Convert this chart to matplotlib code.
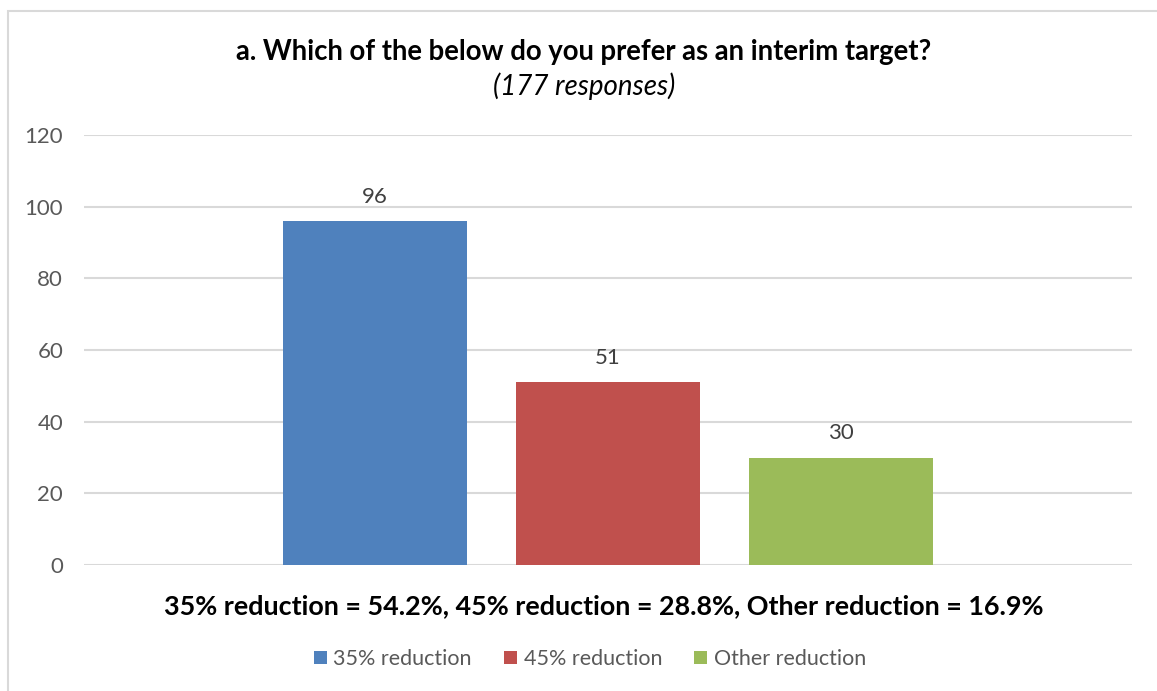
import matplotlib
matplotlib.use("Agg")
import matplotlib.pyplot as plt
from matplotlib.patches import Rectangle, Patch

categories = ["35% reduction", "45% reduction", "Other reduction"]
values = [96, 51, 30]
colors = ["#4f81bd", "#c0504d", "#9bbb59"]
yticks = [0, 20, 40, 60, 80, 100, 120]
title = "a. Which of the below do you prefer as an interim target?"
subtitle = "(177 responses)"
xlabel = "35% reduction = 54.2%, 45% reduction = 28.8%, Other reduction = 16.9%"

plt.rcParams['font.family'] = ['Lato', 'DejaVu Sans']

W, H = 1157, 691
fig = plt.figure(figsize=(W / 100, H / 100), dpi=100)

# chart border
fig.patches.append(Rectangle((8 / W, -0.01), 1.02 - 8 / W, 1 - 11 / H + 0.01,
                             transform=fig.transFigure, fill=False,
                             edgecolor="#d9d9d9", linewidth=1.5))

ax = fig.add_axes([84 / W, 1 - 565 / H, (1132 - 84) / W, (565 - 135) / H])
bw = 184 / 1048
off = 233 / 1048
for i, (c, v, col) in enumerate(zip(categories, values, colors)):
    x = (i - 1) * off
    ax.bar(x, v, width=bw, color=col, label=c, zorder=3)
    ax.text(x, v + 4.0, str(v), ha="center", va="bottom", fontsize=16,
            color="#404040")

ax.set_xlim(-0.5, 0.5)
ax.set_ylim(0, 120)
ax.set_yticks(yticks)
ax.set_yticklabels([str(t) for t in yticks], fontsize=16, color="#595959")
ax.set_xticks([])
ax.grid(axis="y", color="#d9d9d9", linewidth=1.5, zorder=0)
for s in ax.spines.values():
    s.set_visible(False)
ax.tick_params(axis="y", length=0, pad=15)

fig.text(584 / W, 1 - 52 / H, title, ha="center", va="center",
         fontsize=19.8, fontweight="bold", color="#000000")
fig.text(584 / W, 1 - 86 / H, subtitle, ha="center", va="center",
         fontsize=20, fontstyle="italic", color="#000000")
fig.text(604 / W, 1 - 606 / H, xlabel, ha="center", va="center",
         fontsize=19.4, fontweight="bold", color="#000000")

handles = [Patch(facecolor=c, label=l) for c, l in zip(colors, categories)]
fig.legend(handles=handles, loc="center", bbox_to_anchor=(590 / W, 1 - 659 / H),
           ncol=3, frameon=False, fontsize=15.5, labelcolor="#595959",
           handlelength=0.6, handleheight=0.6, handletextpad=0.3,
           columnspacing=1.5)

fig.savefig("out.png", dpi=100)
